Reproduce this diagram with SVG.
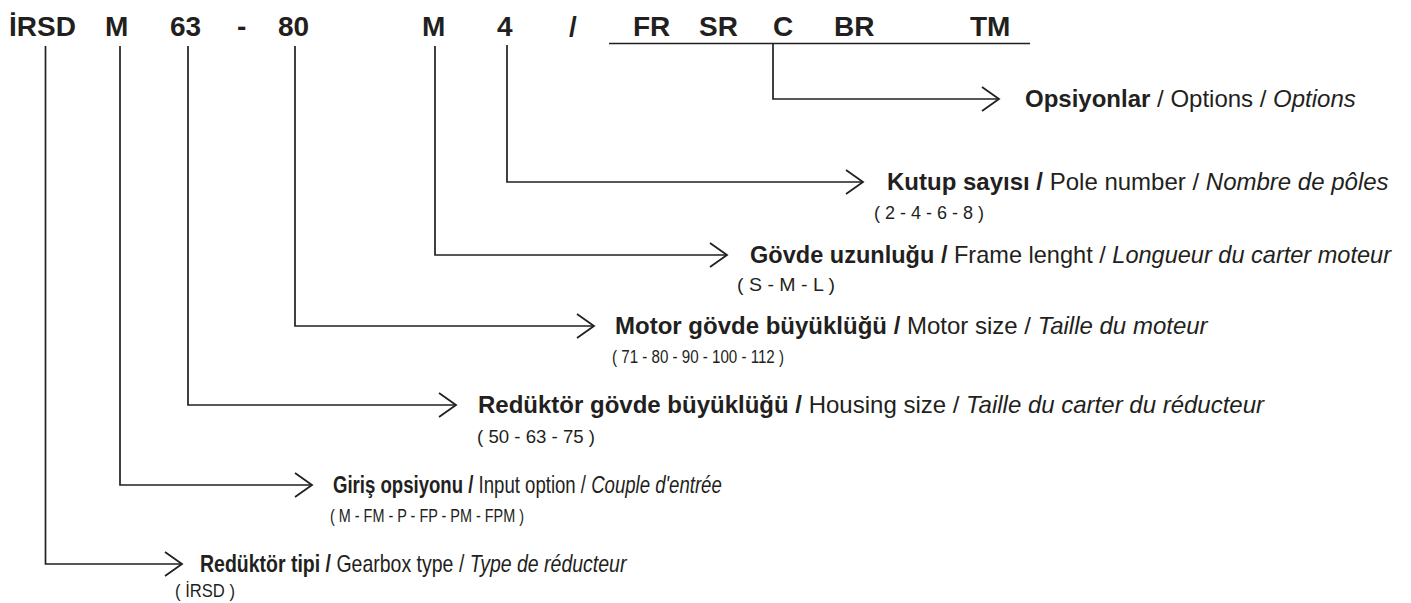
<svg xmlns="http://www.w3.org/2000/svg" width="1411" height="603" viewBox="0 0 1411 603">
<style>
.code{font-family:"Liberation Sans",Arial,sans-serif;font-size:28px;font-weight:bold;fill:#231f20}
.lbl{font-family:"Liberation Sans",Arial,sans-serif;font-size:24px;fill:#231f20}
.sub{font-family:"Liberation Sans",Arial,sans-serif;font-size:18px;fill:#231f20}
.b{font-weight:bold}
.i{font-style:italic}
.ln{fill:none;stroke:#231f20;stroke-width:1.7}
</style>
<defs>
<marker id="arr" viewBox="0 0 20 26" markerWidth="20" markerHeight="26" refX="18" refY="13" orient="auto" markerUnits="userSpaceOnUse">
<path d="M1,1 L18,13 L1,25" fill="none" stroke="#231f20" stroke-width="1.8"/>
</marker>
</defs>
<rect width="1411" height="603" fill="#ffffff"/>
<g id="code">
<text class="code" x="9" y="36">İRSD</text>
<text class="code" x="105" y="36">M</text>
<text class="code" x="170" y="36">63</text>
<text class="code" x="237" y="36">-</text>
<text class="code" x="278" y="36">80</text>
<text class="code" x="422" y="36">M</text>
<text class="code" x="497" y="36">4</text>
<text class="code" x="569" y="36">/</text>
<text class="code" x="633" y="36">FR</text>
<text class="code" x="699" y="36">SR</text>
<text class="code" x="773" y="36">C</text>
<text class="code" x="834" y="36">BR</text>
<text class="code" x="970" y="36">TM</text>
</g>
<g id="connectors">
<line class="ln" x1="609" y1="43.5" x2="1030" y2="43.5"/>
<path class="ln" d="M773,43.5 V99 H999" marker-end="url(#arr)"/>
<path class="ln" d="M507,45 V182 H863" marker-end="url(#arr)"/>
<path class="ln" d="M435,46 V255 H727" marker-end="url(#arr)"/>
<path class="ln" d="M295,46 V326 H594" marker-end="url(#arr)"/>
<path class="ln" d="M188,46 V405 H456" marker-end="url(#arr)"/>
<path class="ln" d="M120,46 V485 H312" marker-end="url(#arr)"/>
<path class="ln" d="M45.5,46 V564 H182" marker-end="url(#arr)"/>
</g>
<g id="opt">
<text class="lbl" x="1025" y="107"><tspan class="b">Opsiyonlar</tspan> / Options / <tspan class="i">Options</tspan></text>
</g>
<g id="pole">
<text class="lbl" x="887" y="190"><tspan class="b">Kutup sayısı /</tspan> Pole number / <tspan class="i">Nombre de pôles</tspan></text>
<text class="sub" x="874" y="219">( 2 - 4 - 6 - 8 )</text>
</g>
<g id="frame">
<text class="lbl" x="750" y="263" textLength="641" lengthAdjust="spacingAndGlyphs"><tspan class="b">Gövde uzunluğu /</tspan> Frame lenght / <tspan class="i">Longueur du carter moteur</tspan></text>
<text class="sub" x="737" y="291" textLength="98" lengthAdjust="spacingAndGlyphs">( S - M - L )</text>
</g>
<g id="motor">
<text class="lbl" x="615" y="334"><tspan class="b">Motor gövde büyüklüğü /</tspan> Motor size / <tspan class="i">Taille du moteur</tspan></text>
<text class="sub" x="612" y="363" textLength="172" lengthAdjust="spacingAndGlyphs">( 71 - 80 - 90 - 100 - 112 )</text>
</g>
<g id="housing">
<text class="lbl" x="478" y="413"><tspan class="b">Redüktör gövde büyüklüğü /</tspan> Housing size / <tspan class="i">Taille du carter du réducteur</tspan></text>
<text class="sub" x="477" y="443" textLength="118" lengthAdjust="spacingAndGlyphs">( 50 - 63 - 75 )</text>
</g>
<g id="input">
<text class="lbl" transform="translate(333,493) scale(0.7746,1)" x="0" y="0"><tspan class="b">Giriş opsiyonu /</tspan> Input option / <tspan class="i">Couple d'entrée</tspan></text>
<text class="sub" x="330" y="522" textLength="194" lengthAdjust="spacingAndGlyphs">( M - FM - P - FP - PM - FPM )</text>
</g>
<g id="type">
<text class="lbl" transform="translate(200,572) scale(0.8123,1)" x="0" y="0"><tspan class="b">Redüktör tipi /</tspan> Gearbox type / <tspan class="i">Type de réducteur</tspan></text>
<text class="sub" x="175" y="597" textLength="60" lengthAdjust="spacingAndGlyphs">( İRSD )</text>
</g>
</svg>
